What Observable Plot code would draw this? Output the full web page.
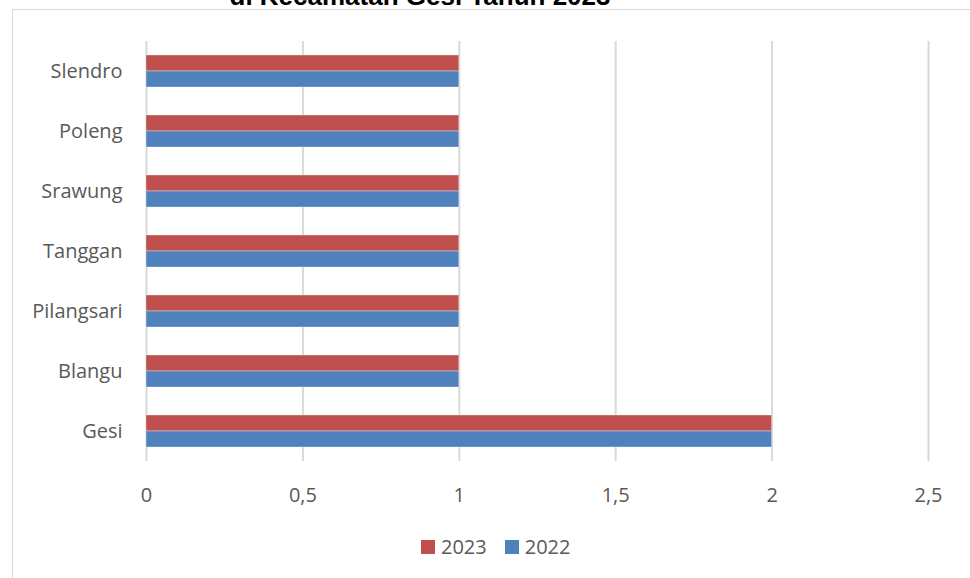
<!DOCTYPE html>
<html>
<head>
<meta charset="utf-8">
<script src="https://cdn.jsdelivr.net/npm/d3@7"></script>
<script src="https://cdn.jsdelivr.net/npm/@observablehq/plot@0.6"></script>
<style>
  html, body { margin: 0; padding: 0; background: #fff; }
  #wrap { position: relative; width: 970px; height: 578px; overflow: hidden; }
  #frame { position: absolute; left: 12px; top: 9px; width: 1000px; height: 700px;
           border-left: 1.5px solid #d9d9d9; border-top: 1.5px solid #d9d9d9; box-sizing: border-box; }
  #title { position: absolute; left: 0; width: 840px; top: -17px; text-align: center;
           font: bold 26px "Liberation Sans", Arial, sans-serif; line-height: 26px; color: #000; white-space: nowrap; }
  #chart { position: absolute; left: 0; top: 0; }
  #legend { position: absolute; left: 421px; top: 533px; display: flex; align-items: center;
            font: 20px "Open Sans", sans-serif; color: #595959; }
  #legend .item { display: flex; align-items: center; margin-right: 18px; }
  #legend .sw { width: 14px; height: 14px; margin-right: 6px; }
</style>
</head>
<body>
<div id="wrap">
  <div id="frame"></div>
  <div id="title">di Kecamatan Gesi Tahun 2023</div>
  <div id="chart"></div>
  <div id="legend"></div>
</div>
<script>
// Kelurahan/desa, from top to bottom
const categories = ["Slendro", "Poleng", "Srawung", "Tanggan", "Pilangsari", "Blangu", "Gesi"];
const values2023 = [1, 1, 1, 1, 1, 1, 2];
const values2022 = [1, 1, 1, 1, 1, 1, 2];
const years = ["2023", "2022"];
const yearColors = ["#C0504D", "#4F81BD"];
const xTicks = [0, 0.5, 1, 1.5, 2, 2.5];
const xTickLabels = ["0", "0,5", "1", "1,5", "2", "2,5"];

const data = [];
categories.forEach((c, i) => {
  data.push({category: c, year: "2023", value: values2023[i]});
  data.push({category: c, year: "2022", value: values2022[i]});
});

const chart = Plot.plot({
  width: 970,
  height: 578,
  marginLeft: 146,
  marginRight: 42,
  marginTop: 39,
  marginBottom: 116,
  style: {fontFamily: "'Open Sans', sans-serif", fontSize: "20px", color: "#595959", background: "transparent"},
  x: {
    domain: [0, 2.5],
    ticks: xTicks,
    tickFormat: d => xTickLabels[xTicks.indexOf(d)],
    tickSize: 0,
    tickPadding: 26,
    label: null
  },
  fy: {domain: categories, padding: 0, axis: "left", tickSize: 0, tickPadding: 24, label: null},
  y: {domain: years, axis: null, padding: 0, insetTop: 14, insetBottom: 14},
  color: {domain: years, range: yearColors},
  marks: [
    Plot.ruleX(xTicks, {stroke: "#d9d9d9", strokeWidth: 2}),
    Plot.barX(data, {
      fy: "category",
      y: "year",
      x: "value",
      fill: "year",
      stroke: "#ffffff",
      strokeOpacity: 0.35,
      strokeWidth: 1
    })
  ]
});
document.getElementById("chart").appendChild(chart);

const legend = document.getElementById("legend");
years.forEach((y, i) => {
  const item = document.createElement("div");
  item.className = "item";
  const sw = document.createElement("div");
  sw.className = "sw";
  sw.style.background = yearColors[i];
  const label = document.createElement("span");
  label.textContent = y;
  item.appendChild(sw);
  item.appendChild(label);
  legend.appendChild(item);
});
</script>
</body>
</html>
